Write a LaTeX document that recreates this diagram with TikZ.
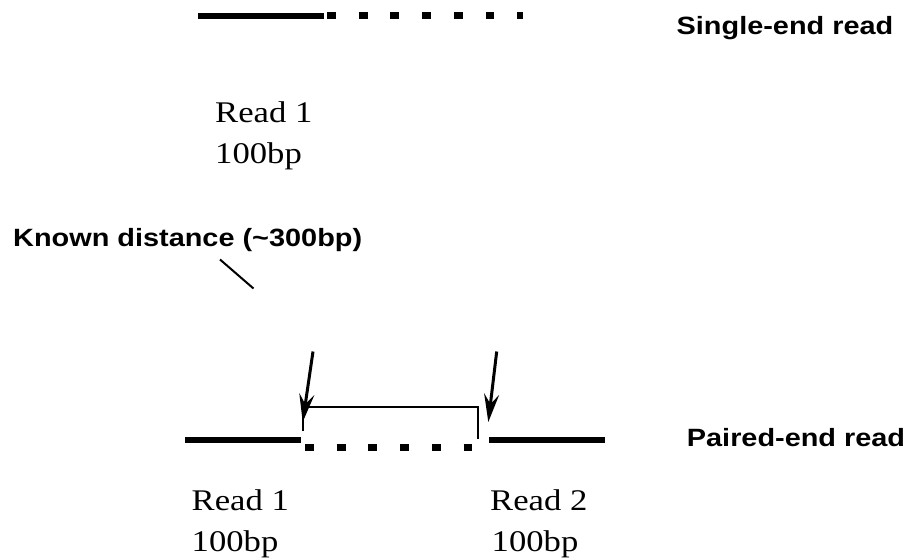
\documentclass[tikz,border=0pt]{standalone}
\usepackage{fontspec}
\setmainfont{Liberation Serif}
\newfontfamily\labelsans{Liberation Sans}
\usetikzlibrary{arrows.meta}
\tikzset{
  readline/.style={line width=6pt, line cap=butt},
  gapline/.style={line width=7pt, line cap=butt, dash pattern=on 8.8pt off 22.9pt},
  serifnote/.style={anchor=base west, inner sep=0pt, font=\fontsize{30}{34}\selectfont},
  sansnote/.style={anchor=base west, inner sep=0pt, font=\labelsans\bfseries\fontsize{25}{30}\selectfont},
  pointer/.style={line width=3pt, -{Stealth[length=28pt, width=15pt, inset=10pt]}},
  bracket/.style={line width=2pt},
  leader/.style={line width=2pt}
}
\newcommand{\wide}[1]{\scalebox{1.155}[1]{#1}}
\begin{document}
\begin{tikzpicture}[x=1pt, y=-1pt]
\useasboundingbox (0,0) rectangle (912,559);
% single-end read
\coordinate (s1) at (198,16.5);
\coordinate (s2) at (323.5,16.5);
\coordinate (s3) at (327,16);
\coordinate (s4) at (523,16);
\draw[readline] (s1) -- (s2);
\draw[gapline] (s3) -- (s4);
\node[sansnote] (single) at (676.5,34.3) {\wide{Single-end read}};
\node[serifnote] (r1a) at (215,123) {\wide{Read 1}};
\node[serifnote] (r1b) at (215,163) {\wide{100bp}};
% known distance
\node[sansnote] (known) at (13,246.7) {\wide{Known distance (\char`\~300bp)}};
\coordinate (k1) at (220,259.5);
\coordinate (k2) at (253.5,288.5);
\draw[leader] (k1) -- (k2);
% paired-end read
\coordinate (p1) at (185,440);
\coordinate (p2) at (300.5,440);
\coordinate (p3) at (305,447.5);
\coordinate (p4) at (474,447.5);
\coordinate (p5) at (489.3,440);
\coordinate (p6) at (605,440);
\draw[readline] (p1) -- (p2);
\draw[gapline] (p3) -- (p4);
\draw[readline] (p5) -- (p6);
\coordinate (b1) at (302.7,431);
\coordinate (b2) at (302.7,406.7);
\coordinate (b3) at (478.3,406.7);
\coordinate (b4) at (478.3,438.5);
\draw[bracket] (b1) -- (b2) -- (b3) -- (b4);
\coordinate (a1) at (313,351.5);
\coordinate (a2) at (302.7,422);
\coordinate (a3) at (496.7,351.5);
\coordinate (a4) at (488.3,422);
\draw[pointer] (a1) -- (a2);
\draw[pointer] (a3) -- (a4);
\node[sansnote] (paired) at (686.7,446.7) {\wide{Paired-end read}};
\node[serifnote] (r1c) at (191.5,510.5) {\wide{Read 1}};
\node[serifnote] (r1d) at (191.5,551.5) {\wide{100bp}};
\node[serifnote] (r2a) at (490,510.5) {\wide{Read 2}};
\node[serifnote] (r2b) at (491.5,551.5) {\wide{100bp}};
\end{tikzpicture}
\end{document}
